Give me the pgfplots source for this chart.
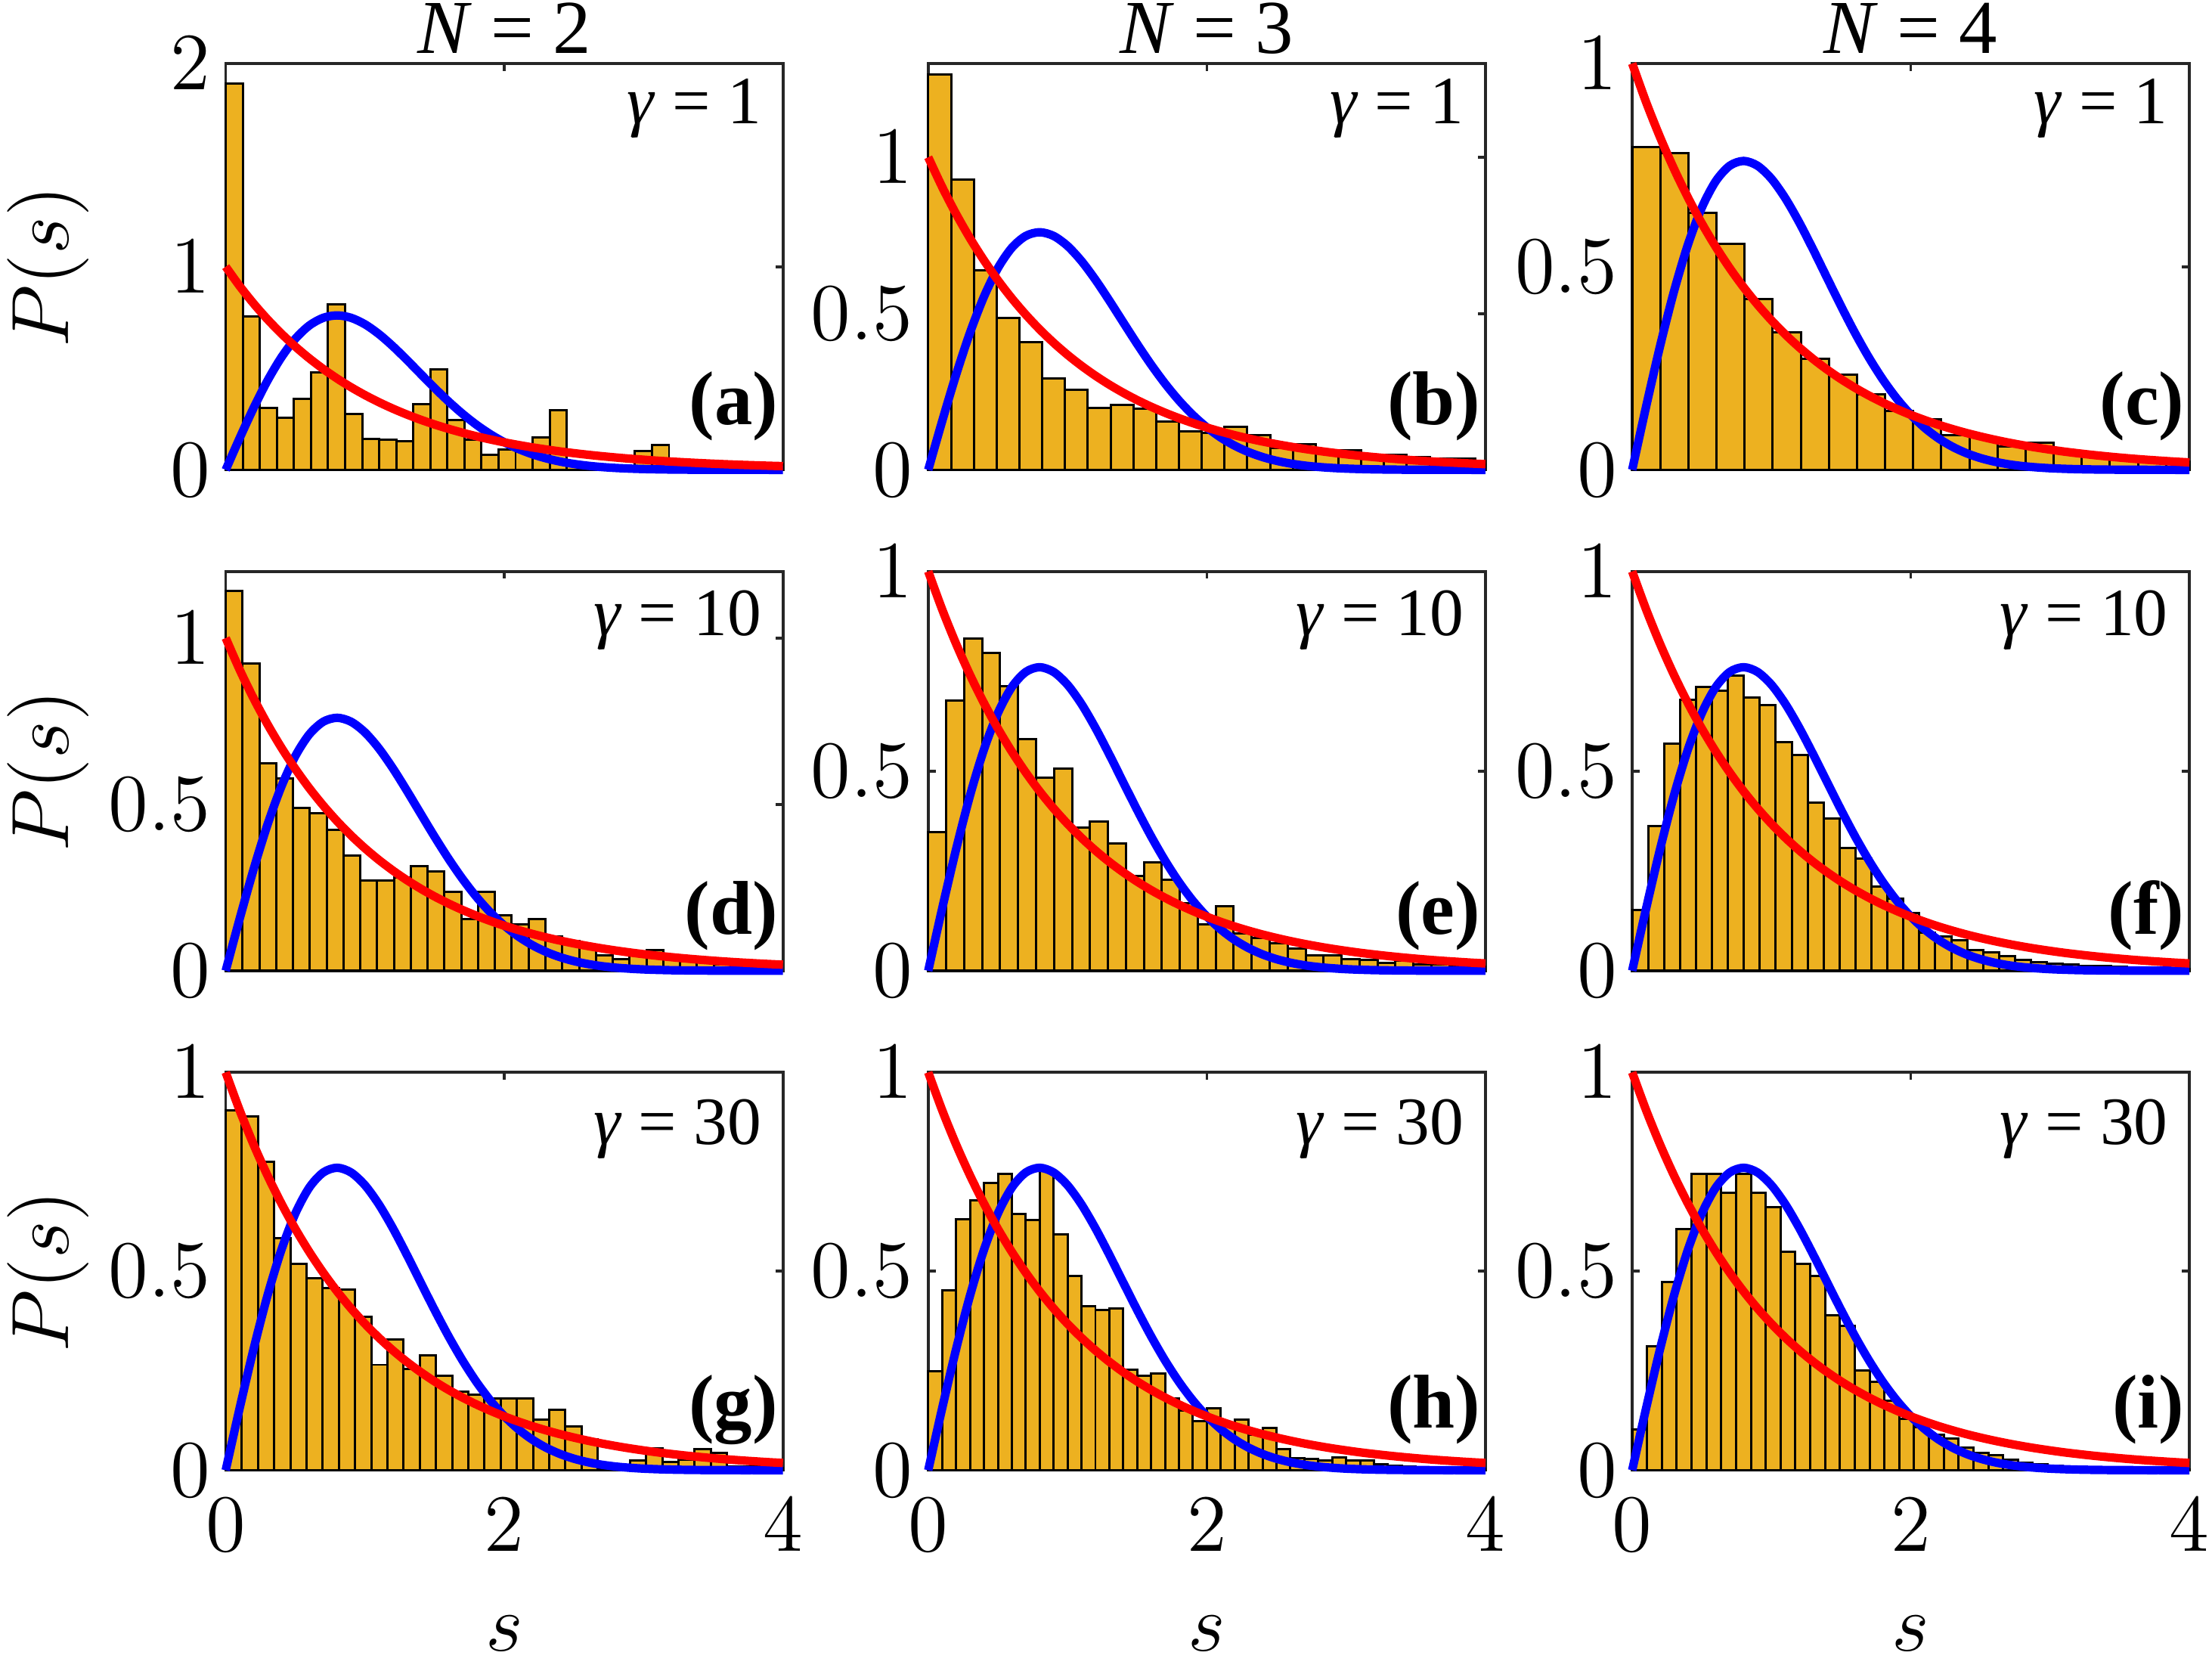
\documentclass[border=0pt]{standalone}
\usepackage[no-math]{fontspec}
\setmainfont{Liberation Serif}
\usepackage{pgfplots}
\pgfplotsset{compat=1.18}
\usepackage{pgfplotstable}
\definecolor{barc}{RGB}{237,177,32}
\definecolor{axc}{RGB}{38,38,38}

\pgfplotstableread{
s p w
0.0 1.0000 0.0000
0.1 0.9048 0.1559
0.2 0.8187 0.3044
0.3 0.7408 0.4391
0.4 0.6703 0.5541
0.5 0.6065 0.6454
0.6 0.5488 0.7104
0.7 0.4966 0.7483
0.8 0.4493 0.7602
0.9 0.4066 0.7483
1.0 0.3679 0.7162
1.1 0.3329 0.6680
1.2 0.3012 0.6083
1.3 0.2725 0.5415
1.4 0.2466 0.4717
1.5 0.2231 0.4025
1.6 0.2019 0.3365
1.7 0.1827 0.2759
1.8 0.1653 0.2219
1.9 0.1496 0.1752
2.0 0.1353 0.1358
2.1 0.1225 0.1033
2.2 0.1108 0.0772
2.3 0.1003 0.0567
2.4 0.0907 0.0409
2.5 0.0821 0.0290
2.6 0.0743 0.0202
2.7 0.0672 0.0138
2.8 0.0608 0.0093
2.9 0.0550 0.0062
3.0 0.0498 0.0040
3.1 0.0450 0.0026
3.2 0.0408 0.0016
3.3 0.0369 0.0010
3.4 0.0334 0.0006
3.5 0.0302 0.0004
3.6 0.0273 0.0002
3.7 0.0247 0.0001
3.8 0.0224 0.0001
3.9 0.0202 0.0000
4.0 0.0183 0.0000
}\curves

\pgfplotsset{
  panel/.style={
    scale only axis, width=98.75pt, anchor=south west,
    xmin=0, xmax=4, ymin=0, xtick={0,2,4},
    clip=false, tick align=inside, major tick length=1.3pt,
    axis line style={line width=0.5pt, draw=axc},
    every tick/.style={line width=0.5pt, draw=axc},
    tick label style={font=\fontsize{14.5}{16}\selectfont},
    xticklabel style={yshift=-1.5pt},
    yticklabel style={xshift=0.8pt},
  },
  hist/.style={ybar interval, fill=barc, draw=black, line width=0.4pt},
  wig/.style={blue, line width=1.5pt, smooth},
  poi/.style={red, line width=1.5pt, smooth},
}
\tikzset{
  gam/.style={anchor=base east, inner sep=0pt, xshift=-3.6pt, font=\fontsize{12}{14}\selectfont},
  plab/.style={anchor=base east, inner sep=0pt, xshift=-0.7pt, font=\fontsize{13.5}{15}\selectfont\bfseries},
}
\newcommand\lbl{\fontsize{15}{18}\selectfont}
\newcommand\ttl{\fontsize{13.5}{15}\selectfont}

\begin{document}
\begin{tikzpicture}
\useasboundingbox (0,0) rectangle (392pt,295.5pt);

% ---------------- row 1 ----------------
\begin{axis}[panel, at={(40pt,212.25pt)}, height=72pt, ymax=2, ytick={0,1,2}, xticklabels={}]
\addplot[hist] coordinates {(0,1.90) (0.1224,0.755) (0.2448,0.306) (0.3672,0.256) (0.4896,0.350) (0.612,0.48) (0.7344,0.815) (0.8568,0.276) (0.9792,0.152) (1.1016,0.148) (1.224,0.142) (1.3464,0.323) (1.4688,0.495) (1.5912,0.245) (1.7136,0.15) (1.836,0.075) (1.9584,0.1) (2.0808,0.12) (2.2032,0.16) (2.3256,0.292) (2.448,0.02) (2.5704,0.01) (2.6928,0) (2.8152,0) (2.9376,0.093) (3.06,0.122) (3.1824,0.01) (3.3048,0) (3.4272,0) (3.5496,0) (3.672,0) (3.7944,0) (3.9168,0.03) (4.0,0)};
\addplot[wig] table[x=s,y=w]{\curves};
\addplot[poi] table[x=s,y=p]{\curves};
\node[gam, yshift=-10.6pt] at (rel axis cs:1,1) {\textit{γ} = 1};
\node[plab, yshift=8pt] at (rel axis cs:1,0) {(a)};
\end{axis}

\begin{axis}[panel, at={(164.5pt,212.25pt)}, height=72pt, ymax=1.3, ytick={0,0.5,1}, xticklabels={}]
\addplot[hist] coordinates {(0,1.265) (0.1636,0.928) (0.3272,0.639) (0.4908,0.486) (0.6544,0.409) (0.818,0.293) (0.9816,0.256) (1.1452,0.199) (1.3088,0.208) (1.4724,0.195) (1.636,0.155) (1.7996,0.123) (1.9632,0.118) (2.1268,0.137) (2.2904,0.111) (2.454,0.07) (2.6176,0.081) (2.7812,0.06) (2.9448,0.063) (3.1084,0.045) (3.272,0.048) (3.4356,0.04) (3.5992,0.035) (3.7628,0.035) (3.9264,0.03) (4.0,0)};
\addplot[wig] table[x=s,y=w]{\curves};
\addplot[poi] table[x=s,y=p]{\curves};
\node[gam, yshift=-10.6pt] at (rel axis cs:1,1) {\textit{γ} = 1};
\node[plab, yshift=8pt] at (rel axis cs:1,0) {(b)};
\end{axis}

\begin{axis}[panel, at={(289.25pt,212.25pt)}, height=72pt, ymax=1, ytick={0,0.5,1}, xticklabels={}]
\addplot[hist] coordinates {(0,0.795) (0.2017,0.780) (0.4034,0.633) (0.6051,0.556) (0.8068,0.420) (1.0085,0.338) (1.2102,0.273) (1.4119,0.234) (1.6136,0.185) (1.8153,0.145) (2.017,0.125) (2.2187,0.086) (2.4204,0.08) (2.6221,0.057) (2.8238,0.066) (3.0255,0.04) (3.2272,0.037) (3.4289,0.03) (3.6306,0.025) (3.8323,0.02) (4.0,0)};
\addplot[wig] table[x=s,y=w]{\curves};
\addplot[poi] table[x=s,y=p]{\curves};
\node[gam, yshift=-10.6pt] at (rel axis cs:1,1) {\textit{γ} = 1};
\node[plab, yshift=8pt] at (rel axis cs:1,0) {(c)};
\end{axis}

% ---------------- row 2 ----------------
\begin{axis}[panel, at={(40pt,123.5pt)}, height=70.75pt, ymax=1.2, ytick={0,0.5,1}, xticklabels={}]
\addplot[hist] coordinates {(0,1.142) (0.1208,0.923) (0.2416,0.623) (0.3624,0.578) (0.4832,0.490) (0.604,0.474) (0.7248,0.424) (0.8456,0.347) (0.9664,0.271) (1.0872,0.271) (1.208,0.28) (1.3288,0.314) (1.4496,0.298) (1.5704,0.237) (1.6912,0.155) (1.812,0.237) (1.9328,0.166) (2.0536,0.14) (2.1744,0.156) (2.2952,0.103) (2.416,0.09) (2.5368,0.075) (2.6576,0.046) (2.7784,0.036) (2.8992,0.058) (3.02,0.062) (3.1408,0.04) (3.2616,0.03) (3.3824,0.03) (3.5032,0.02) (3.624,0.02) (3.7448,0.015) (3.8656,0.015) (3.9864,0)};
\addplot[wig] table[x=s,y=w]{\curves};
\addplot[poi] table[x=s,y=p]{\curves};
\node[gam, yshift=-11.4pt] at (rel axis cs:1,1) {\textit{γ} = 10};
\node[plab, yshift=6.5pt] at (rel axis cs:1,0) {(d)};
\end{axis}

\begin{axis}[panel, at={(164.5pt,123.5pt)}, height=70.75pt, ymax=1, ytick={0,0.5,1}, xticklabels={}]
\addplot[hist] coordinates {(0,0.347) (0.129,0.676) (0.258,0.832) (0.387,0.796) (0.516,0.712) (0.645,0.581) (0.774,0.484) (0.903,0.507) (1.032,0.359) (1.161,0.373) (1.29,0.319) (1.419,0.237) (1.548,0.271) (1.677,0.227) (1.806,0.17) (1.935,0.117) (2.064,0.161) (2.193,0.093) (2.322,0.083) (2.451,0.068) (2.58,0.055) (2.709,0.039) (2.838,0.039) (2.967,0.03) (3.096,0.028) (3.225,0.02) (3.354,0.025) (3.483,0.015) (3.612,0.015) (3.741,0.01) (3.87,0.01) (4.0,0)};
\addplot[wig] table[x=s,y=w]{\curves};
\addplot[poi] table[x=s,y=p]{\curves};
\node[gam, yshift=-11.4pt] at (rel axis cs:1,1) {\textit{γ} = 10};
\node[plab, yshift=6.5pt] at (rel axis cs:1,0) {(e)};
\end{axis}

\begin{axis}[panel, at={(289.25pt,123.5pt)}, height=70.75pt, ymax=1, ytick={0,0.5,1}, xticklabels={}]
\addplot[hist] coordinates {(0,0.152) (0.1145,0.362) (0.229,0.569) (0.3435,0.678) (0.458,0.710) (0.5725,0.701) (0.687,0.739) (0.8015,0.685) (0.916,0.666) (1.0305,0.573) (1.145,0.541) (1.2595,0.421) (1.374,0.381) (1.4885,0.307) (1.603,0.281) (1.7175,0.210) (1.832,0.18) (1.9465,0.145) (2.061,0.096) (2.1755,0.086) (2.29,0.077) (2.4045,0.052) (2.519,0.047) (2.6335,0.037) (2.748,0.028) (2.8625,0.022) (2.977,0.018) (3.0915,0.015) (3.206,0.012) (3.3205,0.012) (3.435,0.01) (3.5495,0.008) (3.664,0.006) (3.7785,0.005) (3.893,0.004) (4.0,0)};
\addplot[wig] table[x=s,y=w]{\curves};
\addplot[poi] table[x=s,y=p]{\curves};
\node[gam, yshift=-11.4pt] at (rel axis cs:1,1) {\textit{γ} = 10};
\node[plab, yshift=6.5pt] at (rel axis cs:1,0) {(f)};
\end{axis}

% ---------------- row 3 ----------------
\begin{axis}[panel, at={(40pt,35pt)}, height=70.5pt, ymax=1, ytick={0,0.5,1}]
\addplot[hist] coordinates {(0,0.905) (0.1161,0.89) (0.2322,0.775) (0.3483,0.584) (0.4644,0.518) (0.5805,0.482) (0.6966,0.458) (0.8127,0.455) (0.9288,0.386) (1.0449,0.265) (1.161,0.328) (1.2771,0.255) (1.3932,0.288) (1.5093,0.237) (1.6254,0.197) (1.7415,0.19) (1.8576,0.18) (1.9737,0.181) (2.0898,0.181) (2.2059,0.128) (2.322,0.152) (2.4381,0.111) (2.5542,0.077) (2.6703,0.005) (2.7864,0.005) (2.9025,0.024) (3.0186,0.055) (3.1347,0.02) (3.2508,0.027) (3.3669,0.054) (3.483,0.043) (3.5991,0.01) (3.7152,0.01) (3.8313,0.005) (3.9474,0.005) (4.0,0)};
\addplot[wig] table[x=s,y=w]{\curves};
\addplot[poi] table[x=s,y=p]{\curves};
\node[gam, yshift=-12.8pt] at (rel axis cs:1,1) {\textit{γ} = 30};
\node[plab, yshift=7.5pt] at (rel axis cs:1,0) {(g)};
\end{axis}

\begin{axis}[panel, at={(164.5pt,35pt)}, height=70.5pt, ymax=1, ytick={0,0.5,1}]
\addplot[hist] coordinates {(0,0.249) (0.1,0.452) (0.2,0.630) (0.3,0.678) (0.4,0.722) (0.5,0.744) (0.6,0.645) (0.7,0.629) (0.8,0.753) (0.9,0.593) (1.0,0.489) (1.1,0.413) (1.2,0.403) (1.3,0.406) (1.4,0.253) (1.5,0.238) (1.6,0.243) (1.7,0.181) (1.8,0.15) (1.9,0.124) (2.0,0.156) (2.1,0.12) (2.2,0.128) (2.3,0.09) (2.4,0.107) (2.5,0.053) (2.6,0.031) (2.7,0.029) (2.8,0.024) (2.9,0.033) (3.0,0.024) (3.1,0.024) (3.2,0.016) (3.3,0.012) (3.4,0.01) (3.5,0.008) (3.6,0.006) (3.7,0.005) (3.8,0.004) (3.9,0.003) (4.0,0)};
\addplot[wig] table[x=s,y=w]{\curves};
\addplot[poi] table[x=s,y=p]{\curves};
\node[gam, yshift=-12.8pt] at (rel axis cs:1,1) {\textit{γ} = 30};
\node[plab, yshift=7.5pt] at (rel axis cs:1,0) {(h)};
\end{axis}

\begin{axis}[panel, at={(289.25pt,35pt)}, height=70.5pt, ymax=1, ytick={0,0.5,1}]
\addplot[hist] coordinates {(0,0.102) (0.1065,0.311) (0.213,0.474) (0.3195,0.607) (0.426,0.745) (0.5325,0.745) (0.639,0.697) (0.7455,0.745) (0.852,0.698) (0.9585,0.661) (1.065,0.549) (1.1715,0.518) (1.278,0.488) (1.3845,0.389) (1.491,0.362) (1.5975,0.251) (1.704,0.223) (1.8105,0.175) (1.917,0.13) (2.0235,0.109) (2.13,0.09) (2.2365,0.08) (2.343,0.056) (2.4495,0.043) (2.556,0.038) (2.6625,0.026) (2.769,0.019) (2.8755,0.016) (2.982,0.012) (3.0885,0.008) (3.195,0.007) (3.3015,0.006) (3.408,0.005) (3.5145,0.004) (3.621,0.003) (3.7275,0.003) (3.834,0.002) (3.9405,0.002) (4.0,0)};
\addplot[wig] table[x=s,y=w]{\curves};
\addplot[poi] table[x=s,y=p]{\curves};
\node[gam, yshift=-12.8pt] at (rel axis cs:1,1) {\textit{γ} = 30};
\node[plab, yshift=7.5pt] at (rel axis cs:1,0) {(i)};
\end{axis}

% ---------------- outer labels ----------------
\node[anchor=base] at (89.4pt,286pt) {\ttl\textit{N} = 2};
\node[anchor=base] at (213.9pt,286pt) {\ttl\textit{N} = 3};
\node[anchor=base] at (338.6pt,286pt) {\ttl\textit{N} = 4};
\node[rotate=90] at (8.5pt,248.25pt) {\lbl$P(s)$};
\node[rotate=90] at (8.5pt,158.9pt) {\lbl$P(s)$};
\node[rotate=90] at (8.5pt,70.25pt) {\lbl$P(s)$};
\node[anchor=base] at (89.4pt,3pt) {\lbl$s$};
\node[anchor=base] at (213.9pt,3pt) {\lbl$s$};
\node[anchor=base] at (338.6pt,3pt) {\lbl$s$};
\end{tikzpicture}
\end{document}
